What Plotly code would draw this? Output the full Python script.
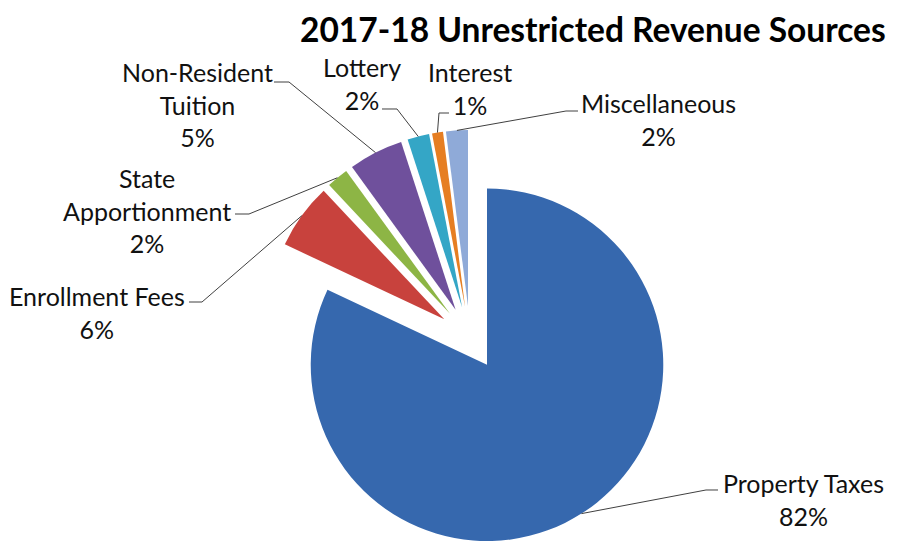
import math
import plotly.graph_objects as go

# ---- data ----
labels = ["Property Taxes", "Enrollment Fees", "State Apportionment",
          "Non-Resident Tuition", "Lottery", "Interest", "Miscellaneous"]
values = [82, 6, 2, 5, 2, 1, 2]
label_text = ["Property Taxes<br>82%", "Enrollment Fees<br>6%",
              "State<br>Apportionment<br>2%", "Non-Resident<br>Tuition<br>5%",
              "Lottery<br>2%", "Interest<br>1%", "Miscellaneous<br>2%"]
title_text = "2017-18 Unrestricted Revenue Sources"

# ---- style / layout ----
colors = ["#3668AE", "#C8423D", "#8DB545", "#6F509C", "#34A6C6", "#E67E22", "#8FAAD8"]
OFF = 8                      # default page body margin
W, H = 905 - OFF, 546 - OFF  # figure size so it fits the window
PULL = 0.18
CX_PAGE, CY_PAGE = 470, 338  # desired pie centre in page px
half = 546 - CY_PAGE         # half box height reaching page bottom
dom_y = [0.0, 2 * half / H]
xc = (CX_PAGE - OFF) / W
dom_x = [xc - 0.24, xc + 0.24]
FONT = "Lato, 'Open Sans', sans-serif"
LABEL_SIZE = 25

# label centres (page px) and leader stub points (page px)
label_layout = [
    (803, 499, (718, 490), (706, 490)),
    (97, 312, (189, 302), (202, 302)),
    (147, 210, (235, 214), (249, 214)),
    (197, 105, (274, 82), (289, 82)),
    (362, 83, (382, 109), (397, 109)),
    (470, 88, (449, 113), (439, 113)),
    (658, 119, (578, 111), (566, 111)),
]

fig = go.Figure(go.Pie(
    labels=labels, values=values, sort=False, direction="clockwise",
    rotation=0, pull=[PULL] * len(values), textinfo="none",
    marker=dict(colors=colors, line=dict(width=0)),
    domain=dict(x=dom_x, y=dom_y), showlegend=False, hoverinfo="label+percent",
))

# replicate plotly pie geometry (figure px) for leader anchors
box_w = W * (dom_x[1] - dom_x[0])
box_h = H * (dom_y[1] - dom_y[0])
r = min(box_w, box_h) / 2 / (1 + PULL)
cx = W * (dom_x[0] + dom_x[1]) / 2
cy = H * (1 - dom_y[0]) - box_h / 2

def fig2paper(x, y):
    return x / W, 1 - y / H

def page2paper(x, y):
    return fig2paper(x - OFF, y - OFF)

total = sum(values)
cum = 0
shapes = []
annotations = []
for i, v in enumerate(values):
    mid = 2 * math.pi * (cum + v / 2) / total
    cum += v
    ux, uy = math.sin(mid), -math.cos(mid)
    ax = cx + ux * r * (1 + PULL)
    ay = cy + uy * r * (1 + PULL)
    tx, ty, s0, s1 = label_layout[i]
    pts = [page2paper(*s0), page2paper(*s1), fig2paper(ax, ay)]
    path = "M " + " L ".join(f"{p[0]:.5f},{p[1]:.5f}" for p in pts)
    shapes.append(dict(type="path", path=path, xref="paper", yref="paper",
                       line=dict(color="#404040", width=1)))
    px, py = page2paper(tx, ty)
    annotations.append(dict(text=label_text[i], x=px, y=py, xref="paper", yref="paper",
                            xanchor="center", yanchor="middle", showarrow=False,
                            align="center", font=dict(family=FONT, size=LABEL_SIZE, color="#111111")))

# chart title as a top-anchored annotation
tx_, _ = page2paper(593, 26)
annotations.append(dict(text="<b>" + title_text + "</b>", x=tx_, y=1.0, xref="paper", yref="paper",
                        xanchor="center", yanchor="top", showarrow=False, borderpad=0,
                        font=dict(family=FONT, size=33.5, color="#000000")))

fig.update_layout(
    width=W, height=H, margin=dict(l=0, r=0, t=0, b=0),
    paper_bgcolor="white", plot_bgcolor="white",
    shapes=shapes, annotations=annotations,
)
fig.write_html("out.html")
